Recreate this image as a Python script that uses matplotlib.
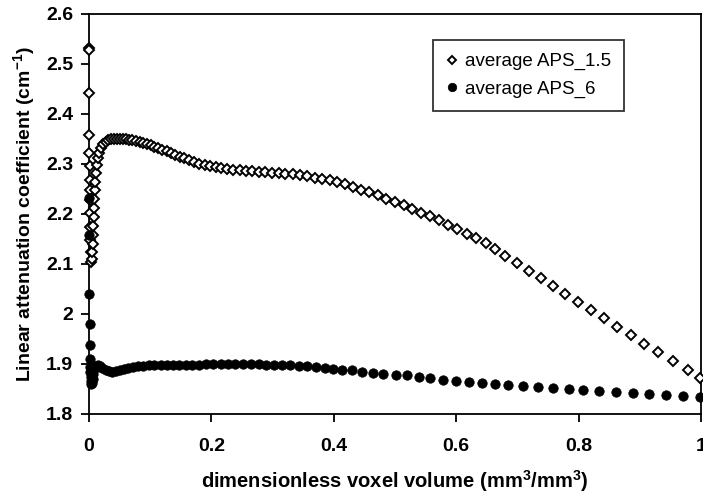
import matplotlib
matplotlib.use("Agg")
import matplotlib.pyplot as plt

plt.rcParams['font.family'] = ['Liberation Sans', 'DejaVu Sans']
plt.rcParams['mathtext.fontset'] = 'custom'
plt.rcParams['mathtext.rm'] = 'Liberation Sans'
plt.rcParams['mathtext.bf'] = 'Liberation Sans:bold'
plt.rcParams['mathtext.default'] = 'bf'

# ---- data: average APS_1.5 (open diamonds) ----
x_aps15 = [0.0000, 0.0002, 0.0004, 0.0006, 0.0008, 0.0010, 0.0012, 0.0014, 0.0016, 0.0018,
           0.0020, 0.0023, 0.0026, 0.0030,
           0.0045, 0.0055, 0.0065, 0.0070, 0.0072, 0.0075, 0.0080, 0.0085, 0.0090, 0.0100,
           0.0110, 0.0125, 0.0145, 0.0170, 0.020, 0.023, 0.027, 0.031, 0.036, 0.041,
           0.046, 0.051, 0.056, 0.061, 0.066, 0.071, 0.077, 0.083, 0.089, 0.095,
           0.101, 0.107, 0.113, 0.120, 0.127, 0.134, 0.141, 0.148, 0.156, 0.164,
           0.172, 0.180, 0.189, 0.198, 0.207, 0.216, 0.226, 0.236, 0.246, 0.256,
           0.266, 0.277, 0.288, 0.299, 0.310, 0.321, 0.333, 0.345, 0.357, 0.369,
           0.381, 0.393, 0.406, 0.419, 0.432, 0.445, 0.458, 0.472, 0.486, 0.500,
           0.514, 0.528, 0.542, 0.557, 0.572, 0.587, 0.602, 0.617, 0.632, 0.648,
           0.664, 0.680, 0.699, 0.719, 0.739, 0.758, 0.778, 0.799, 0.820, 0.842,
           0.863, 0.886, 0.907, 0.930, 0.954, 0.979, 0.998]
y_aps15 = [2.532, 2.528, 2.442, 2.358, 2.322, 2.296, 2.268, 2.248, 2.228, 2.202,
           2.174, 2.148, 2.124, 2.105,
           2.110, 2.125, 2.140, 2.158, 2.176, 2.195, 2.212, 2.230, 2.248, 2.265,
           2.282, 2.298, 2.312, 2.322, 2.332, 2.340, 2.345, 2.348, 2.350, 2.351,
           2.351, 2.351, 2.350, 2.350, 2.349, 2.348, 2.346, 2.344, 2.342, 2.340,
           2.338, 2.335, 2.332, 2.329, 2.326, 2.323, 2.319, 2.315, 2.312, 2.308,
           2.304, 2.301, 2.298, 2.296, 2.294, 2.292, 2.290, 2.289, 2.288, 2.287,
           2.286, 2.285, 2.284, 2.283, 2.282, 2.281, 2.280, 2.278, 2.276, 2.273,
           2.270, 2.268, 2.264, 2.260, 2.254, 2.249, 2.244, 2.238, 2.231, 2.225,
           2.218, 2.211, 2.203, 2.196, 2.188, 2.179, 2.170, 2.161, 2.152, 2.143,
           2.130, 2.116, 2.102, 2.087, 2.072, 2.056, 2.040, 2.024, 2.008, 1.992,
           1.975, 1.958, 1.941, 1.924, 1.906, 1.888, 1.873]

# ---- data: average APS_6 (filled circles) ----
x_aps6 = [0.0000, 0.0003, 0.0006, 0.0009, 0.0012, 0.0015, 0.0018, 0.0020, 0.0025, 0.0030,
          0.0040, 0.0050, 0.0060, 0.0070, 0.0080, 0.0100, 0.014, 0.018, 0.022, 0.027,
          0.032, 0.038, 0.044, 0.050, 0.057, 0.064, 0.072, 0.080, 0.089, 0.098,
          0.107, 0.117, 0.127, 0.137, 0.147, 0.158, 0.169, 0.180, 0.191, 0.203,
          0.215, 0.227, 0.239, 0.251, 0.264, 0.277, 0.290, 0.303, 0.316, 0.329,
          0.343, 0.357, 0.371, 0.385, 0.399, 0.414, 0.430, 0.446, 0.464, 0.481,
          0.501, 0.520, 0.539, 0.557, 0.578, 0.599, 0.621, 0.642, 0.664, 0.685,
          0.709, 0.734, 0.758, 0.784, 0.807, 0.833, 0.861, 0.889, 0.915, 0.943,
          0.971, 0.998]
y_aps6 = [2.233, 2.158, 2.041, 1.980, 1.939, 1.911, 1.895, 1.885, 1.875, 1.866,
          1.860, 1.862, 1.870, 1.880, 1.890, 1.897, 1.899, 1.897, 1.893, 1.889,
          1.886, 1.885, 1.886, 1.888, 1.890, 1.892, 1.894, 1.896, 1.897, 1.898,
          1.898, 1.898, 1.898, 1.898, 1.899, 1.899, 1.899, 1.899, 1.900, 1.900,
          1.900, 1.900, 1.900, 1.900, 1.900, 1.900, 1.899, 1.899, 1.899, 1.898,
          1.897, 1.896, 1.894, 1.893, 1.891, 1.889, 1.888, 1.885, 1.883, 1.881,
          1.879, 1.878, 1.875, 1.873, 1.869, 1.867, 1.864, 1.863, 1.861, 1.859,
          1.857, 1.855, 1.853, 1.851, 1.849, 1.847, 1.845, 1.843, 1.841, 1.839,
          1.837, 1.835]

x_ticks = [0, 0.2, 0.4, 0.6, 0.8, 1]
x_ticklabels = ['0', '0.2', '0.4', '0.6', '0.8', '1']
y_ticks = [1.8, 1.9, 2.0, 2.1, 2.2, 2.3, 2.4, 2.5, 2.6]
y_ticklabels = ['1.8', '1.9', '2', '2.1', '2.2', '2.3', '2.4', '2.5', '2.6']

fig = plt.figure(figsize=(7.03, 4.97), dpi=100)
ax = fig.add_axes([89/703, 1-414/497, 612/703, 400/497])

ax.plot(x_aps15, y_aps15, linestyle='none', marker='D', markersize=4.8,
        markerfacecolor='white', markeredgecolor='black', markeredgewidth=1.4,
        label='average APS_1.5', clip_on=False, zorder=3)
ax.plot(x_aps6, y_aps6, linestyle='none', marker='o', markersize=6.8,
        markerfacecolor='black', markeredgecolor='black', markeredgewidth=0.5,
        label='average APS_6', clip_on=False, zorder=4)

ax.set_xlim(0, 1)
ax.set_ylim(1.8, 2.6)
ax.set_xticks(x_ticks)
ax.set_xticklabels(x_ticklabels)
ax.set_yticks(y_ticks)
ax.set_yticklabels(y_ticklabels)

for sp in ax.spines.values():
    sp.set_linewidth(1.3)
    sp.set_color('black')

ax.tick_params(axis='both', direction='out', length=5.5, width=1.3, colors='black',
               labelsize=14)
ax.tick_params(axis='x', pad=12)
ax.tick_params(axis='y', pad=6)
for lab in ax.get_xticklabels() + ax.get_yticklabels():
    lab.set_fontweight('bold')

ax.set_xlabel('dimensionless voxel volume (mm$^{3}$/mm$^{3}$)', fontsize=14.5,
              fontweight='bold', labelpad=9)
ax.set_ylabel('Linear attenuation coefficient (cm$^{-1}$)', fontsize=14,
              fontweight='bold', labelpad=6)

leg = ax.legend(loc='upper left', bbox_to_anchor=(0.562, 0.935), frameon=True,
                fancybox=False, shadow=False, fontsize=13.5, handlelength=0.6,
                handletextpad=0.4, borderpad=0.7, labelspacing=0.55,
                borderaxespad=0, markerscale=0.9)
leg.get_frame().set_edgecolor('black')
leg.get_frame().set_linewidth(1.3)

fig.savefig('out.png', dpi=100, facecolor='white')
